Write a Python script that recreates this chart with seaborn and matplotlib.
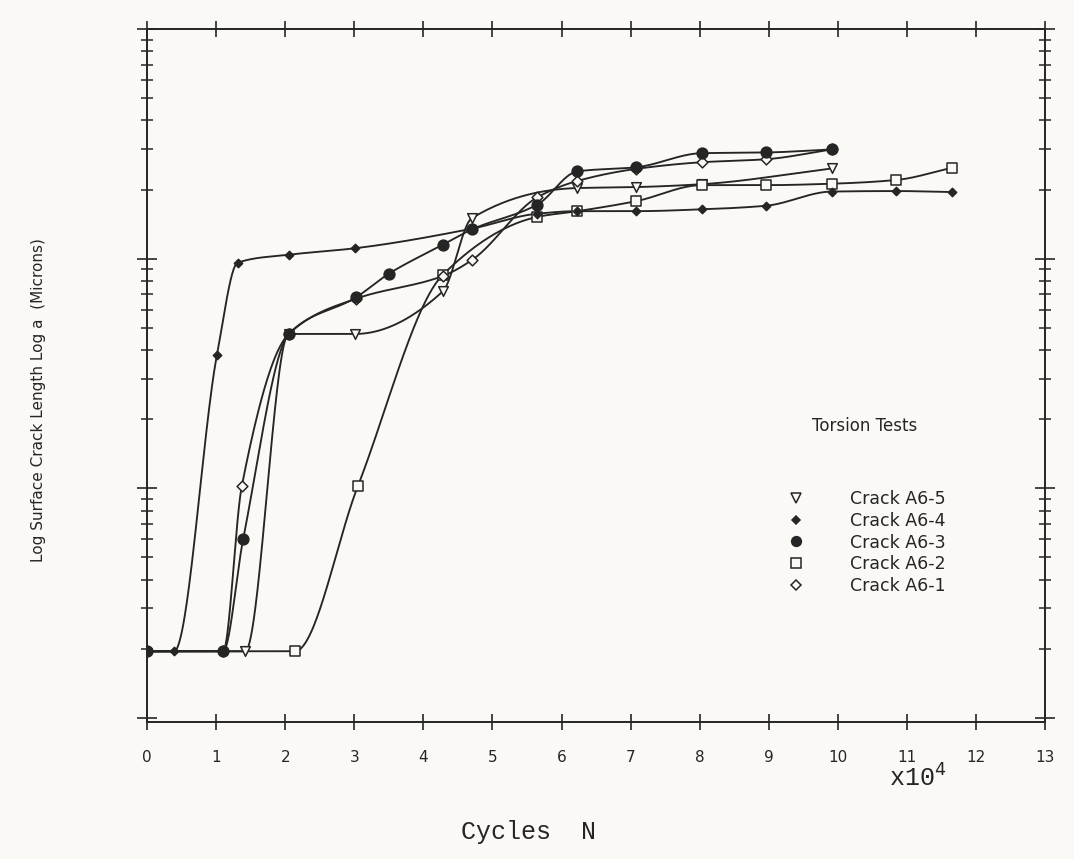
import numpy as np
import matplotlib
matplotlib.use("Agg")
import matplotlib.pyplot as plt
import seaborn as sns
from matplotlib.lines import Line2D
from matplotlib.ticker import LogLocator, NullFormatter, FixedLocator

# Cycles (x 10^4) against surface crack length (microns) for each torsion crack
cycles_a6_5 = [0.0, 1.42, 2.05, 3.01, 4.28, 4.70, 6.23, 7.08, 8.03, 9.91]
length_a6_5 = [1.95, 1.95, 47, 47, 72, 150, 203, 205, 211, 247]

cycles_a6_4 = [0.0, 0.39, 1.01, 1.31, 2.05, 3.01, 4.70, 5.65, 6.23, 7.08, 8.03, 8.96, 9.91, 10.84, 11.66]
length_a6_4 = [1.95, 1.95, 38, 96, 104, 111, 135, 157, 161, 161, 164, 170, 196, 197, 195]

cycles_a6_3 = [0.0, 1.10, 1.39, 2.05, 3.03, 3.50, 4.28, 4.70, 5.65, 6.23, 7.08, 8.03, 8.96, 9.91]
length_a6_3 = [1.95, 1.95, 6.0, 47, 68, 86, 115, 134, 172, 240, 250, 288, 290, 299]

cycles_a6_2 = [0.0, 2.14, 3.05, 4.28, 5.65, 6.23, 7.08, 8.03, 8.96, 9.91, 10.84, 11.66]
length_a6_2 = [1.95, 1.95, 10.2, 85, 152, 161, 178, 209, 209, 212, 220, 249]

cycles_a6_1 = [0.0, 1.10, 1.37, 2.05, 3.03, 4.28, 4.71, 5.65, 6.23, 7.08, 8.03, 8.96, 9.91]
length_a6_1 = [1.95, 1.95, 10.2, 47, 67, 84, 99, 185, 218, 246, 263, 271, 299]

crack_names = ["Crack A6-5", "Crack A6-4", "Crack A6-3", "Crack A6-2", "Crack A6-1"]
x_ticks = list(range(0, 14))

INK = "#252525"
PAPER = "#fbf9f6"

# marker, face colour, scatter size, legend size, first point that carries a marker, layer
styles = {
    "Crack A6-5": ("v", PAPER, 48, 7, 1, 3),
    "Crack A6-4": ("D", INK, 18, 4, 0, 4),
    "Crack A6-3": ("o", INK, 60, 7, 0, 5),
    "Crack A6-2": ("s", PAPER, 58, 7, 1, 3),
    "Crack A6-1": ("D", PAPER, 30, 5.5, 0, 3),
}
series = {
    "Crack A6-5": (cycles_a6_5, length_a6_5),
    "Crack A6-4": (cycles_a6_4, length_a6_4),
    "Crack A6-3": (cycles_a6_3, length_a6_3),
    "Crack A6-2": (cycles_a6_2, length_a6_2),
    "Crack A6-1": (cycles_a6_1, length_a6_1),
}


def smooth_log_curve(xk, yk, n=60):
    """Monotone cubic (Fritsch-Carlson) curve through the points in log-y space."""
    xk = np.asarray(xk, float)
    lk = np.log10(np.asarray(yk, float))
    h = np.diff(xk)
    d = np.diff(lk) / h
    m = np.zeros_like(lk)
    for k in range(1, len(xk) - 1):
        if d[k - 1] * d[k] > 0:
            w1 = 2 * h[k] + h[k - 1]
            w2 = h[k] + 2 * h[k - 1]
            m[k] = (w1 + w2) / (w1 / d[k - 1] + w2 / d[k])
    m[0] = d[0]
    m[-1] = d[-1]
    xs, ls = [], []
    for k in range(len(xk) - 1):
        t = np.linspace(0, 1, n, endpoint=(k == len(xk) - 2))
        h00 = 2 * t**3 - 3 * t**2 + 1
        h10 = t**3 - 2 * t**2 + t
        h01 = -2 * t**3 + 3 * t**2
        h11 = t**3 - t**2
        xs.append(xk[k] + t * h[k])
        ls.append(h00 * lk[k] + h10 * h[k] * m[k] + h01 * lk[k + 1] + h11 * h[k] * m[k + 1])
    return np.concatenate(xs), 10 ** np.concatenate(ls)


sns.set_theme(style="ticks")
plt.rcParams["font.family"] = ["DejaVu Sans"]

fig = plt.figure(figsize=(10.74, 8.59), dpi=100, facecolor=PAPER)
ax = fig.add_axes([0.137, 0.1595, 0.836, 0.8067], facecolor=PAPER)
ax.set_yscale("log")

for name in crack_names:
    cx, cy = series[name]
    sx, sy = smooth_log_curve(cx, cy)
    sns.lineplot(x=sx, y=sy, ax=ax, color=INK, lw=1.35, sort=False, estimator=None, zorder=2)

for name in crack_names:
    cx, cy = series[name]
    mk, face, size, _, start, layer = styles[name]
    sns.scatterplot(x=cx[start:], y=cy[start:], ax=ax, marker=mk, s=size, color=face,
                    edgecolor=INK, linewidth=1.1, zorder=layer, legend=False)

ax.set_xlim(0, 13)
ax.set_ylim(0.96, 1000)
ax.xaxis.set_major_locator(FixedLocator(x_ticks))
ax.set_xticklabels([str(t) for t in x_ticks])
ax.yaxis.set_major_locator(LogLocator(base=10, numticks=10))
ax.yaxis.set_minor_locator(LogLocator(base=10, subs=np.arange(2, 10), numticks=20))
ax.yaxis.set_major_formatter(NullFormatter())
ax.yaxis.set_minor_formatter(NullFormatter())

ax.tick_params(axis="x", which="major", direction="inout", length=12, width=1.2,
               top=True, bottom=True, labelsize=11, colors=INK, pad=14)
ax.tick_params(axis="y", which="major", direction="inout", length=15, width=1.2,
               left=True, right=True, colors=INK)
ax.tick_params(axis="y", which="minor", direction="inout", length=8, width=1.1,
               left=True, right=True, colors=INK)
for sp in ax.spines.values():
    sp.set_color(INK)
    sp.set_linewidth(1.4)
ax.set_xlabel("")
ax.set_ylabel("")

# Legend
ax.text(0.741, 0.427, "Torsion Tests", transform=ax.transAxes, fontsize=12,
        color=INK, va="center", ha="left")
handles = []
for name in crack_names:
    mk, face, _, msize, _, _ = styles[name]
    handles.append(Line2D([], [], linestyle="none", marker=mk, markersize=msize,
                          markerfacecolor=face, markeredgecolor=INK, markeredgewidth=1.1))
ax.legend(handles, crack_names, loc="upper left", bbox_to_anchor=(0.705, 0.345),
          frameon=False, fontsize=12.5, handlelength=1.0, handletextpad=2.6,
          labelspacing=0.22, borderaxespad=0, labelcolor=INK)

fig.text(0.036, 1 - 400 / 859, "Log Surface Crack Length Log a  (Microns)",
         rotation=90, fontsize=11, color=INK, ha="center", va="center")
fig.text(0.828, 1 - 778 / 859, "x10$^{4}$", fontsize=18, color=INK,
         family="Liberation Mono", ha="left", va="center")
fig.text(0.492, 1 - 832 / 859, "Cycles  N", fontsize=18, color=INK,
         family="Liberation Mono", ha="center", va="center")

fig.savefig("out.png", dpi=100, facecolor=PAPER)
